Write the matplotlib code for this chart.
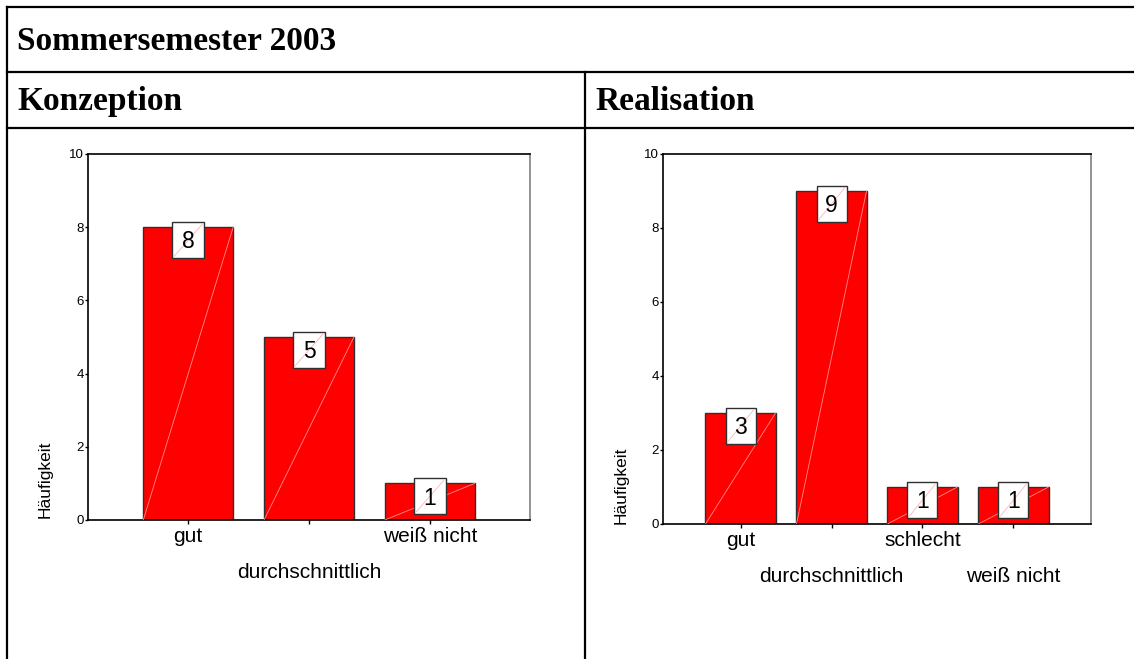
import numpy as np
import matplotlib.pyplot as plt
from matplotlib.patches import Rectangle
from matplotlib.lines import Line2D

plt.rcParams['font.family'] = ['Liberation Sans', 'DejaVu Sans']

# Daten
titel = 'Sommersemester 2003'
titel_links = 'Konzeption'
titel_rechts = 'Realisation'
kat_konzeption = ['gut', 'durchschnittlich', 'weiß nicht']
werte_konzeption = [8, 5, 1]
kat_realisation = ['gut', 'durchschnittlich', 'schlecht', 'weiß nicht']
werte_realisation = [3, 9, 1, 1]
y_ticks = [0, 2, 4, 6, 8, 10]

W, H = 1134, 659
fig = plt.figure(figsize=(W / 100, H / 100), dpi=100)


def linie(x0, y0, x1, y1):
    fig.add_artist(Line2D([x0 / W, x1 / W], [1 - y0 / H, 1 - y1 / H],
                          color='black', lw=1.6, transform=fig.transFigure))


# Tabellenrahmen
linie(7, 7, W, 7)
linie(7, 72, W, 72)
linie(7, 128, W, 128)
linie(7, 7, 7, H)
linie(585, 72, 585, H)

serif = dict(family='Liberation Serif', fontweight='bold', fontsize=24, va='baseline')
fig.text(17 / W, 1 - 50 / H, titel, **serif)
fig.text(17 / W, 1 - 110 / H, titel_links, **serif)
fig.text(595 / W, 1 - 110 / H, titel_rechts, **serif)


def diagramm(rect, kat, werte, breite, rand, box_b, lab_pos):
    ax = fig.add_axes(rect)
    x = np.arange(len(kat))
    ax.set_xlim(-rand, len(kat) - 1 + rand)
    ax.set_ylim(0, 10)
    ax.bar(x, werte, width=breite, color='#ff0000', edgecolor='#303030',
           linewidth=1, zorder=2)

    # Umrechnung Pixel -> Daten
    dx = (len(kat) - 1 + 2 * rand) / (rect[2] * W)
    dy = 10 / (rect[3] * H)

    for xi, v in zip(x, werte):
        # helle Diagonale im Balken
        ax.plot([xi - breite / 2, xi + breite / 2], [0, v], color='#ff8c8c',
                lw=0.6, zorder=3)
        # Wertekasten
        x0 = xi - box_b / 2 * dx
        y0 = v + 5 * dy - 36 * dy
        ax.add_patch(Rectangle((x0, y0), box_b * dx, 36 * dy, facecolor='white',
                               edgecolor='#303030', lw=1, zorder=4))
        ax.plot([x0 + 2 * dx, x0 + box_b * dx - 2 * dx], [y0 + 2 * dy, y0 + 34 * dy],
                color='#ffb4b4', lw=0.6, zorder=5)
        ax.text(xi, y0 + 18 * dy - 8.2 * dy, str(v), ha='center', va='baseline',
                fontsize=16.5, zorder=6)

    ax.set_yticks(y_ticks)
    ax.tick_params(axis='y', length=2.5, width=1, pad=0.5, labelsize=9.5)
    ax.set_xticks(x)
    ax.set_xticklabels(kat)
    ax.tick_params(axis='x', length=3, width=1, labelsize=15)
    for i, t in enumerate(ax.xaxis.get_major_ticks()):
        t.set_pad(2 if i % 2 == 0 else 28)

    for s in ax.spines.values():
        s.set_linewidth(1.2)
        s.set_color('black')
    ax.spines['right'].set_color('#808080')

    ax.text(lab_pos[0], lab_pos[1], 'Häufigkeit', transform=ax.transAxes,
            rotation=90, ha='center', va='center', fontsize=12.5)
    return ax


diagramm([88 / W, 1 - 520 / H, 442 / W, 366 / H], kat_konzeption, werte_konzeption,
         0.744, 0.83, 32, (-0.097, 0.112))
diagramm([663 / W, 1 - 524 / H, 428 / W, 370 / H], kat_realisation, werte_realisation,
         0.77, 0.852, 30, (-0.099, 0.105))

plt.savefig('out.png', dpi=100)
